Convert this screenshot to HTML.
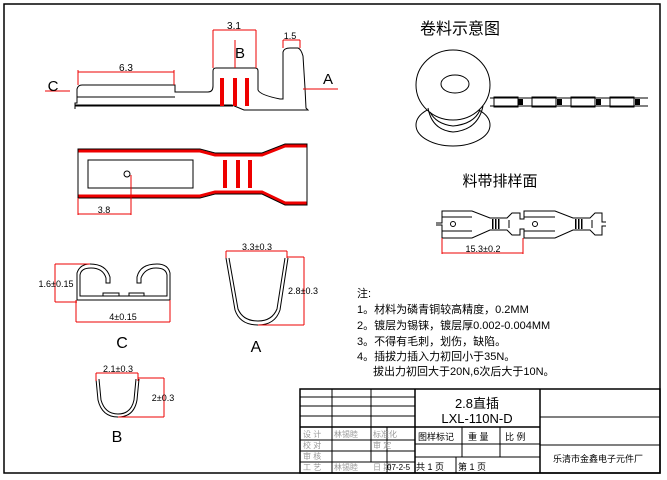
<!DOCTYPE html>
<html><head><meta charset="utf-8"><style>
html,body{margin:0;padding:0;background:#fff}
svg{display:block}
text{font-family:"Liberation Sans","Noto Sans CJK SC",sans-serif;fill:#000}
</style></head><body>
<svg width="667" height="480" viewBox="0 0 667 480" xmlns="http://www.w3.org/2000/svg">
<rect x="4" y="4" width="656" height="469" fill="none" stroke="#000" stroke-width="1.5"/>

<!-- side view -->
<g fill="none" stroke="#000" stroke-width="1">
<path d="M75,109 L75,103 L77,103 L77,89 Q78,85 82,85 L175,85 L175,92 L208,92 Q213,92 213,86 L213,71 Q213,68 216,68 L255,68 Q258,68 258,71 L258,90 Q260,95 280,99 L283,99 L283,52 Q284,48 290,48 L298,48 Q301,49 303,56 L305,88 L306,108 L308,110 L244,110 L232,105 L75,105 Z"/>
<line x1="77" y1="97" x2="175" y2="97"/>
<line x1="75" y1="106" x2="233" y2="106"/>
</g>
<g fill="#e00">
<rect x="220" y="78" width="4" height="28"/><rect x="233" y="78" width="4" height="28"/><rect x="245" y="78" width="4" height="28"/>
</g>
<g stroke="#e00" stroke-width="1" fill="none">
<line x1="78" y1="72" x2="174" y2="72"/><line x1="78" y1="70" x2="78" y2="85"/><line x1="174" y1="70" x2="174" y2="85"/>
<line x1="213" y1="30" x2="256" y2="30"/><line x1="213" y1="30" x2="213" y2="68"/><line x1="256" y1="30" x2="256" y2="68"/>
<line x1="235" y1="40" x2="235" y2="68"/>
<line x1="283" y1="40" x2="300" y2="40"/><line x1="283" y1="40" x2="283" y2="48"/><line x1="300" y1="40" x2="300" y2="48"/>
<line x1="45" y1="91" x2="70" y2="91"/><line x1="303" y1="89" x2="338" y2="89"/>
</g>
<text x="126" y="71" font-size="10" text-anchor="middle">6.3</text>
<text x="234" y="29" font-size="10" text-anchor="middle">3.1</text>
<text x="290" y="39" font-size="9" text-anchor="middle">1.5</text>
<text x="240" y="58" font-size="15" text-anchor="middle">B</text>
<text x="53" y="91" font-size="15" text-anchor="middle">C</text>
<text x="328" y="84" font-size="15" text-anchor="middle">A</text>

<!-- top view -->
<g fill="none" stroke="#e00" stroke-width="3">
<path d="M78,151 L200,151 L215,155 L262,155 L285,146 L307,146"/>
<path d="M78,196 L200,196 L215,192 L262,192 L285,203 L307,203"/>
</g>
<g fill="none" stroke="#000" stroke-width="1">
<path d="M78,149 L200,149 L215,153 L262,153 L285,144 L307,144 L307,205 L285,205 L262,194 L215,194 L200,198 L78,198 Z"/>
<rect x="88" y="160" width="105" height="28"/>
<circle cx="127" cy="174" r="3"/>
</g>
<g fill="#e00"><rect x="223" y="160" width="4" height="28"/><rect x="236" y="160" width="4" height="28"/><rect x="248" y="160" width="4" height="28"/></g>
<g stroke="#e00" fill="none"><line x1="78" y1="214" x2="131" y2="214"/><line x1="78" y1="198" x2="78" y2="215"/><line x1="131" y1="175" x2="131" y2="215"/></g>
<text x="104" y="213" font-size="9" text-anchor="middle">3.8</text>

<!-- C view -->
<g fill="none" stroke="#000" stroke-width="1">
<path d="M77,297 L77,273 Q80,264 90,264 Q106,264 110,277 L110,283 L106,283 L106,278 Q103,268 91,268 Q81,268 80,275 L80,296 L167,296 L167,275 Q166,268 156,268 Q145,268 141,278 L141,283 L137,283 L137,277 Q140,264 157,264 Q168,264 170,273 L170,300 L77,300 Z"/>
<rect x="103" y="293" width="16" height="3"/><rect x="129" y="293" width="15" height="3"/>
</g>
<g stroke="#e00" fill="none">
<line x1="55" y1="264" x2="90" y2="264"/><line x1="55" y1="302" x2="77" y2="302"/><line x1="55" y1="264" x2="55" y2="302"/>
<line x1="76" y1="322" x2="170" y2="322"/><line x1="76" y1="300" x2="76" y2="322"/><line x1="170" y1="300" x2="170" y2="322"/>
</g>
<text x="56" y="287" font-size="9" text-anchor="middle">1.6±0.15</text>
<text x="123" y="320" font-size="9" text-anchor="middle">4±0.15</text>
<text x="122" y="348" font-size="16" text-anchor="middle">C</text>

<!-- A view -->
<g fill="none" stroke="#000" stroke-width="1">
<path d="M226,258 L235,310 Q240,325 258,325 Q275,325 280,310 L288,258"/>
<path d="M229,258 L238,309 Q243,321 258,321 Q272,321 277,309 L285,258"/>
</g>
<g stroke="#e00" fill="none">
<line x1="226" y1="251" x2="287" y2="251"/><line x1="226" y1="251" x2="226" y2="258"/><line x1="287" y1="251" x2="287" y2="258"/>
<line x1="287" y1="257" x2="304" y2="257"/><line x1="258" y1="325" x2="304" y2="325"/><line x1="304" y1="257" x2="304" y2="325"/>
</g>
<text x="257" y="250" font-size="9" text-anchor="middle">3.3±0.3</text>
<text x="303" y="294" font-size="9" text-anchor="middle">2.8±0.3</text>
<text x="256" y="352" font-size="16" text-anchor="middle">A</text>

<!-- B view -->
<g fill="none" stroke="#000" stroke-width="1">
<path d="M96,379 L98,400 Q102,417 118,417 Q134,417 137,400 L139,379"/>
<path d="M99,379 L101,400 Q105,414 118,414 Q131,414 134,400 L136,379"/>
</g>
<g stroke="#e00" fill="none">
<line x1="96" y1="373" x2="138" y2="373"/><line x1="96" y1="373" x2="96" y2="381"/><line x1="138" y1="373" x2="138" y2="381"/>
<line x1="138" y1="378" x2="164" y2="378"/><line x1="118" y1="417" x2="164" y2="417"/><line x1="164" y1="378" x2="164" y2="417"/>
</g>
<text x="118" y="372" font-size="9" text-anchor="middle">2.1±0.3</text>
<text x="163" y="401" font-size="9" text-anchor="middle">2±0.3</text>
<text x="117" y="442" font-size="16" text-anchor="middle">B</text>

<!-- reel -->
<text x="460" y="34" font-size="16" text-anchor="middle">卷料示意图</text>
<g fill="none" stroke="#000" stroke-width="1">
<ellipse cx="453" cy="125" rx="37" ry="21"/>
<ellipse cx="453" cy="85" rx="37" ry="35" fill="#fff"/>
<ellipse cx="455" cy="84" rx="14" ry="9"/>
<path d="M428,108 Q432,130 453,132 Q478,130 483,106"/>
<path d="M430,112 Q436,124 453,126 Q474,124 480,110"/>
<line x1="490" y1="98" x2="648" y2="98"/><line x1="490" y1="106" x2="648" y2="106"/>
<rect x="494" y="97" width="24" height="10"/><rect x="532" y="97" width="24" height="10"/><rect x="571" y="97" width="24" height="10"/><rect x="610" y="97" width="24" height="10"/>
</g>
<g fill="#000"><rect x="518" y="99" width="5" height="6"/><rect x="557" y="99" width="5" height="6"/><rect x="596" y="99" width="5" height="6"/><rect x="635" y="99" width="5" height="6"/></g>

<!-- strip -->
<text x="500" y="186" font-size="15" text-anchor="middle">料带排样面</text>
<g fill="none" stroke="#000" stroke-width="1">
<path d="M436,223 L442,223 L442,211 L472,211 L490,218 L507,218 L512,213 L520,213 L520,219 L524,219 L524,211 L555,211 L573,218 L590,218 L595,213 L602,213 L602,222 L606,222"/>
<path d="M436,225 L442,225 L442,238 L472,238 L490,230 L507,230 L512,235 L520,235 L520,229 L524,229 L524,238 L555,238 L573,230 L590,230 L595,235 L602,235 L602,226 L606,226"/>
<line x1="442" y1="217" x2="472" y2="217"/><line x1="442" y1="231" x2="472" y2="231"/>
<line x1="524" y1="217" x2="555" y2="217"/><line x1="524" y1="231" x2="555" y2="231"/>
<circle cx="453" cy="224" r="2.5"/><circle cx="535" cy="224" r="2.5"/>
<line x1="509" y1="220" x2="509" y2="228"/><line x1="592" y1="220" x2="592" y2="228"/>
</g>
<g fill="#000"><rect x="492" y="219" width="1.5" height="10"/><rect x="495" y="219" width="1.5" height="10"/><rect x="498" y="219" width="1.5" height="10"/>
<rect x="575" y="219" width="1.5" height="10"/><rect x="578" y="219" width="1.5" height="10"/><rect x="581" y="219" width="1.5" height="10"/></g>
<g stroke="#e00" fill="none"><line x1="442" y1="253" x2="523" y2="253"/><line x1="442" y1="238" x2="442" y2="254"/><line x1="523" y1="238" x2="523" y2="254"/></g>
<text x="483" y="252" font-size="9" text-anchor="middle">15.3±0.2</text>

<!-- notes -->
<g font-size="11">
<text x="357" y="297">注:</text>
<text x="357" y="313">1。材料为磷青铜较高精度，0.2MM</text>
<text x="357" y="329">2。镀层为锡铼，镀层厚0.002-0.004MM</text>
<text x="357" y="345">3。不得有毛刺，划伤，缺陷。</text>
<text x="357" y="360">4。插拔力插入力初回小于35N。</text>
<text x="373" y="375">拔出力初回大于20N,6次后大于10N。</text>
</g>

<!-- title block -->
<g fill="none" stroke="#000" stroke-width="1">
<rect x="300" y="389" width="360" height="84" stroke-width="1.5"/>
<line x1="332" y1="389" x2="332" y2="473"/><line x1="371" y1="389" x2="371" y2="462"/><line x1="387" y1="427" x2="387" y2="473"/>
<line x1="415" y1="389" x2="415" y2="473" stroke-width="1.5"/><line x1="540" y1="389" x2="540" y2="473" stroke-width="1.5"/>
<line x1="300" y1="397" x2="415" y2="397"/><line x1="300" y1="406" x2="415" y2="406"/><line x1="300" y1="416" x2="415" y2="416"/>
<line x1="300" y1="427" x2="540" y2="427" stroke-width="1.5"/><line x1="300" y1="440" x2="415" y2="440"/><line x1="300" y1="451" x2="415" y2="451"/><line x1="300" y1="462" x2="415" y2="462"/>
<line x1="415" y1="444" x2="540" y2="444"/><line x1="415" y1="457" x2="540" y2="457"/>
<line x1="462" y1="427" x2="462" y2="457"/><line x1="500" y1="427" x2="500" y2="457"/><line x1="456" y1="457" x2="456" y2="473"/>
<line x1="540" y1="417" x2="660" y2="417"/><line x1="540" y1="445" x2="660" y2="445"/>
</g>
<g font-size="8" fill="#999">
<text x="303" y="437" style="fill:#999">设 计</text><text x="334" y="437" style="fill:#999">林锡睦</text><text x="373" y="437" style="fill:#999">标准化</text>
<text x="303" y="448" style="fill:#999">校 对</text><text x="373" y="448" style="fill:#999">审 定</text>
<text x="303" y="459" style="fill:#999">审 核</text>
<text x="303" y="470" style="fill:#999">工 艺</text><text x="334" y="470" style="fill:#999">林锡睦</text><text x="373" y="470" style="fill:#999">日 期</text>
</g>
<text x="387" y="470" font-size="8">07-2-5</text>
<text x="477" y="408" font-size="13" text-anchor="middle">2.8直插</text>
<text x="477" y="423" font-size="13" text-anchor="middle">LXL-110N-D</text>
<g font-size="9">
<text x="418" y="440">图样标记</text><text x="468" y="440">重 量</text><text x="505" y="440">比 例</text>
<text x="416" y="470">共  1  页</text><text x="458" y="470">第  1  页</text>
<text x="553" y="462">乐清市金鑫电子元件厂</text>
</g>
</svg>
</body></html>
